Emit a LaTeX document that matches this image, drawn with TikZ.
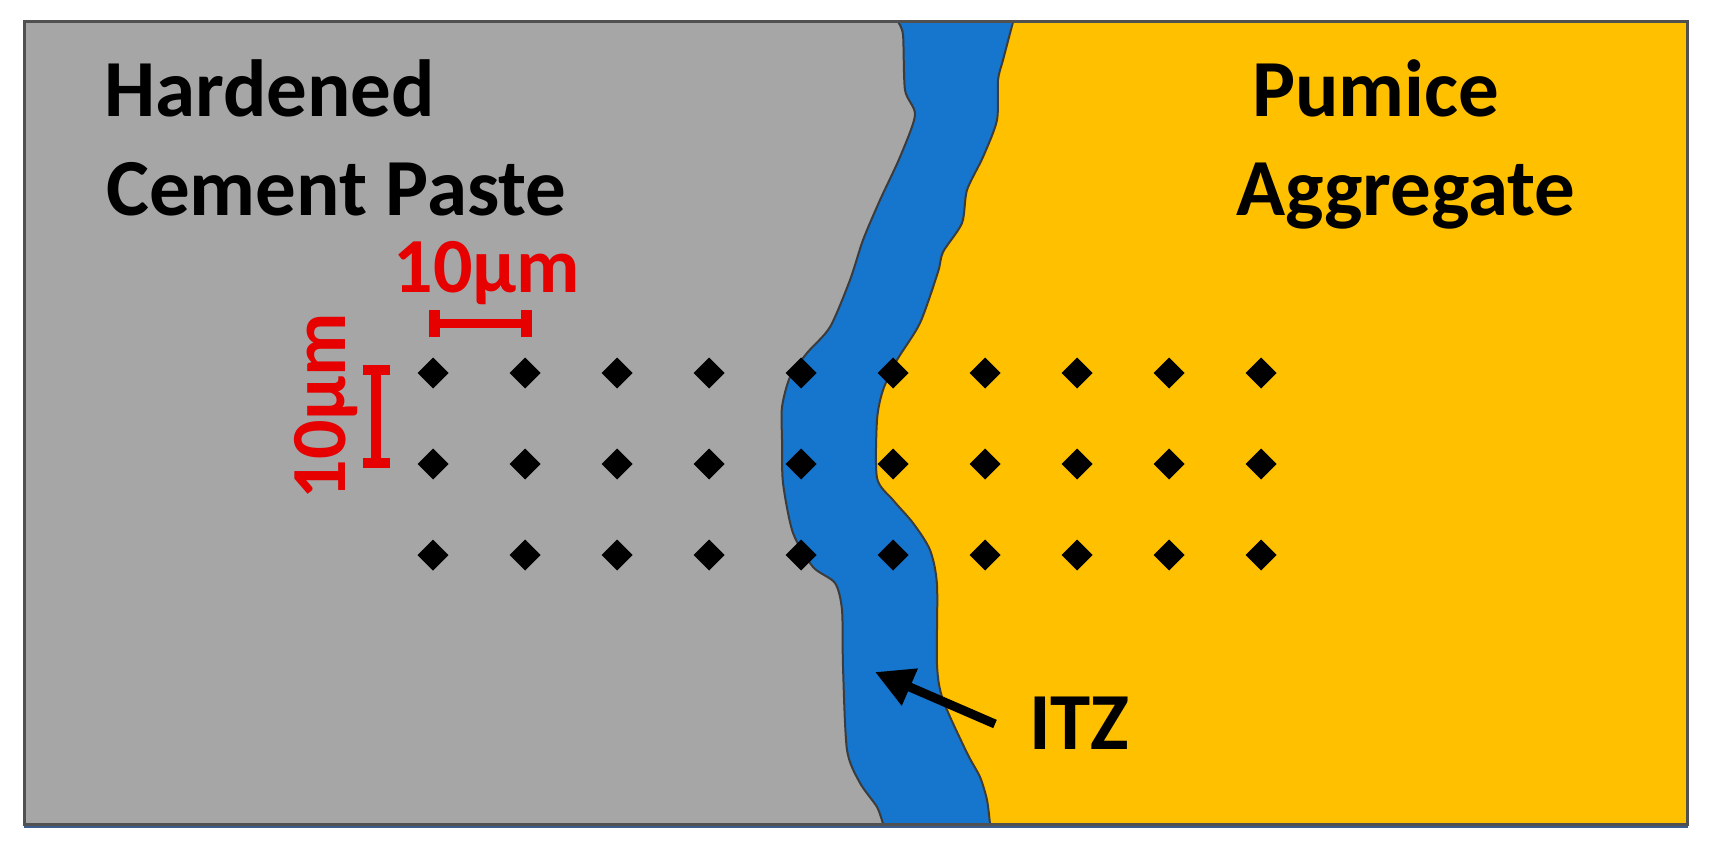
\documentclass[tikz,border=0pt]{standalone}
\usepackage{fontspec}
\setmainfont{Carlito}
\usetikzlibrary{arrows.meta}
\definecolor{paste}{RGB}{166,166,166}
\definecolor{itzblue}{RGB}{22,117,205}
\definecolor{pumice}{RGB}{255,192,0}
\definecolor{edge}{RGB}{60,60,60}
\definecolor{scalered}{RGB}{230,0,0}
\definecolor{framebot}{RGB}{60,90,140}
\definecolor{framecol}{RGB}{80,80,80}
\begin{document}
\begin{tikzpicture}[x=1pt,y=-1pt,
  lbl/.style={inner sep=0pt, anchor=base west, font=\fontsize{81}{96}\selectfont\bfseries},
  redlbl/.style={inner sep=0pt, anchor=base, text=scalered, font=\fontsize{78}{94}\selectfont\bfseries},
  bnd/.style={draw=edge, line width=2pt, line join=round},
  bar/.style={fill=scalered},
  pointer/.style={draw=black, line width=9pt, -{Triangle[length=38pt,width=38pt]}}]
\useasboundingbox (0,0) rectangle (1712,859);
\fill[white] (0,0) rectangle (1712,859);
% hardened cement paste
\fill[paste] (24,22) rectangle (1687,824);
% pumice aggregate
\fill[pumice] plot[smooth, tension=0.45] coordinates {(1013,22) (1003,60) (998,80) (997,120) (983,157) (967,190) (962,223) (943,252) (938,272) (920,323) (897,360) (883,390) (877,420) (877,478) (893,500) (913,523) (930,550) (937,585) (937,665) (943,700) (967,753) (980,777) (987,800) (990,824)} -- (1687,824) -- (1687,22) -- cycle;
% ITZ band
\fill[itzblue] plot[smooth, tension=0.45] coordinates {(898,22) (903,35) (905,90) (915,115) (900,157) (880,200) (863,240) (850,280) (830,327) (807,353) (790,377) (782,407) (782,440) (783,483) (793,533) (813,567) (835,583) (842,610) (843,667) (847,750) (860,783) (877,807) (883,824)}
  -- plot[smooth, tension=0.45] coordinates {(990,824) (987,800) (980,777) (967,753) (943,700) (937,665) (937,585) (930,550) (913,523) (893,500) (877,478) (877,420) (883,390) (897,360) (920,323) (938,272) (943,252) (962,223) (967,190) (983,157) (997,120) (998,80) (1003,60) (1013,22)} -- cycle;
% boundaries
\draw[bnd] plot[smooth, tension=0.45] coordinates {(898,22) (903,35) (905,90) (915,115) (900,157) (880,200) (863,240) (850,280) (830,327) (807,353) (790,377) (782,407) (782,440) (783,483) (793,533) (813,567) (835,583) (842,610) (843,667) (847,750) (860,783) (877,807) (883,824)};
\draw[bnd] plot[smooth, tension=0.45] coordinates {(1013,22) (1003,60) (998,80) (997,120) (983,157) (967,190) (962,223) (943,252) (938,272) (920,323) (897,360) (883,390) (877,420) (877,478) (893,500) (913,523) (930,550) (937,585) (937,665) (943,700) (967,753) (980,777) (987,800) (990,824)};
% frame
\draw[framebot, line width=3pt] (24,826.5) -- (1688,826.5);
\draw[framecol, line width=3pt] (24,22) rectangle (1687,824);
% measurement points
\foreach \yy in {373,464,555}{
  \foreach \i in {0,...,9}{
    \pgfmathsetmacro{\xx}{433+92*\i}
    \fill[black] (\xx,\yy-15.5) -- (\xx+15.5,\yy) -- (\xx,\yy+15.5) -- (\xx-15.5,\yy) -- cycle;
  }
}
% labels
\node[lbl] (hard) at (104,116) {Hardened};
\node[lbl] (cem) at (106,215) {Cement Paste};
\node[lbl] (pum) at (1252,116) {Pumice};
\node[lbl] (agg) at (1236,215) {Aggregate};
\node[lbl] (itz) at (1029,749) {ITZ};
% ITZ pointer
\coordinate (ptail) at (995,724);
\coordinate (ptip) at (875,672);
\draw[pointer] (ptail) -- (ptip);
% scale bars
\fill[bar] (430,318.5) rectangle (532,328);
\fill[bar] (429,310) rectangle (440,337);
\fill[bar] (521,310) rectangle (532,337);
\fill[bar] (371,365) rectangle (381,468);
\fill[bar] (363,365) rectangle (390,375);
\fill[bar] (363,458) rectangle (390,468);
\node[redlbl] (hscale) at (487,292) {10µm};
\node[redlbl, rotate=90] (vscale) at (345,406) {10µm};
\end{tikzpicture}
\end{document}
